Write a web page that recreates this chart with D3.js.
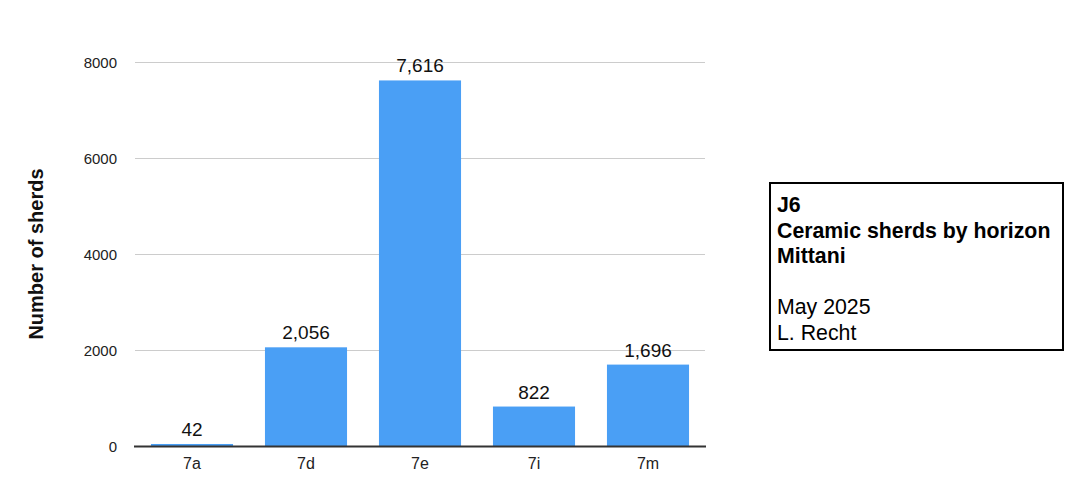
<!DOCTYPE html>
<html><head><meta charset="utf-8">
<script src="https://cdn.jsdelivr.net/npm/d3@7"></script>
<style>body{margin:0;background:#fff;}text{font-family:"Liberation Sans",Arial,Helvetica,sans-serif;}</style>
</head><body>
<svg id="c" width="1084" height="492"></svg>
<script>
const categories = ["7a","7d","7e","7i","7m"];
const values = [42,2056,7616,822,1696];
const yTicks = [0,2000,4000,6000,8000];
const yTitle = "Number of sherds";
const boxBold = ["J6","Ceramic sherds by horizon","Mittani"];
const boxNormal = ["May 2025","L. Recht"];

const svg = d3.select("#c");
const x = d3.scaleBand().domain(categories).range([135,705]).paddingInner(0.28).paddingOuter(0.14);
const y = d3.scaleLinear().domain([0,8000]).range([446,62]);

// grid
svg.append("g").selectAll("line").data(yTicks.filter(d=>d>0)).join("line")
  .attr("x1",135).attr("x2",705).attr("y1",d=>y(d)+0.5).attr("y2",d=>y(d)+0.5)
  .attr("stroke","#cccccc").attr("stroke-width",1);
// y tick labels
svg.append("g").selectAll("text").data(yTicks).join("text")
  .attr("x",117).attr("y",d=>y(d)+5.5).attr("text-anchor","end")
  .attr("font-size",15).attr("fill","#222").text(d=>d);
// bars
svg.append("g").selectAll("rect").data(values).join("rect")
  .attr("x",(d,i)=>x(categories[i])).attr("width",x.bandwidth())
  .attr("y",d=>y(d)).attr("height",d=>y(0)-y(d)).attr("fill","#4a9ff5");
// value labels
svg.append("g").selectAll("text").data(values).join("text")
  .attr("x",(d,i)=>x(categories[i])+x.bandwidth()/2).attr("y",d=>y(d)-8)
  .attr("text-anchor","middle").attr("font-size",19).attr("fill","#111")
  .text(d=>d3.format(",")(d));
// baseline
svg.append("line").attr("x1",134).attr("x2",706).attr("y1",446.5).attr("y2",446.5)
  .attr("stroke","#333").attr("stroke-width",2);
// x labels
svg.append("g").selectAll("text").data(categories).join("text")
  .attr("x",d=>x(d)+x.bandwidth()/2).attr("y",468.5).attr("text-anchor","middle")
  .attr("font-size",16).attr("fill","#222").text(d=>d);
// y title
svg.append("text").attr("transform","translate(43,254) rotate(-90)")
  .attr("text-anchor","middle").attr("font-size",20).attr("font-weight","bold")
  .attr("fill","#111").text(yTitle);
// box
svg.append("rect").attr("x",770).attr("y",183).attr("width",293).attr("height",167)
  .attr("fill","#fff").attr("stroke","#000").attr("stroke-width",2);
const lines = boxBold.map(t=>({t,b:true})).concat([{t:"",b:false}]).concat(boxNormal.map(t=>({t,b:false})));
svg.append("g").selectAll("text").data(lines).join("text")
  .attr("x",777).attr("y",(d,i)=>212+i*25.6).attr("font-size",21.3)
  .attr("font-weight",d=>d.b?"bold":"normal").attr("fill","#000").text(d=>d.t);
</script>
</body></html>
